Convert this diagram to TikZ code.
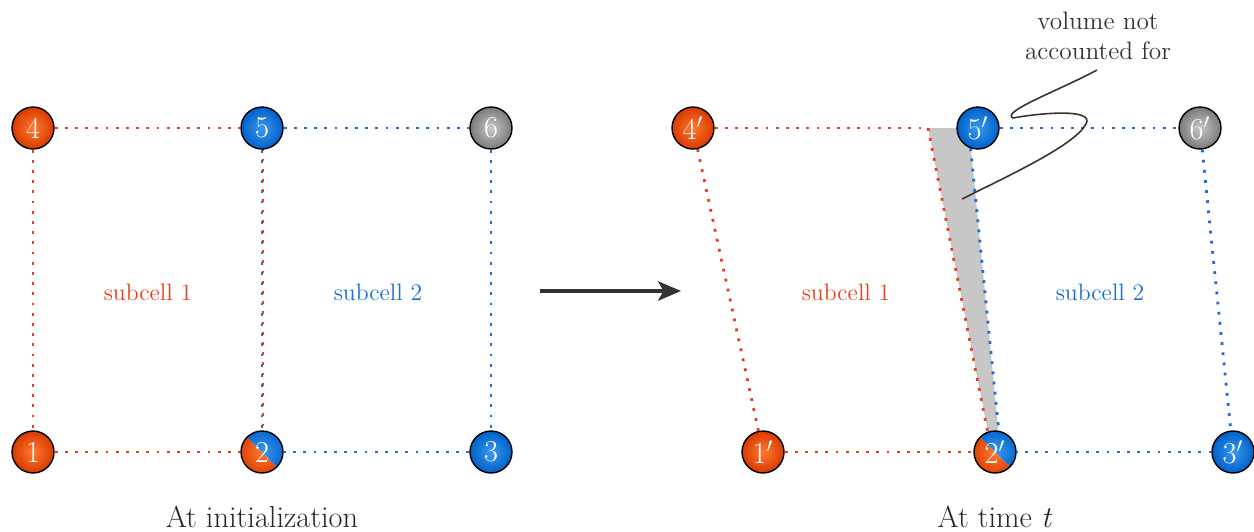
\documentclass[tikz,border=0pt]{standalone}
\usetikzlibrary{calc,arrows.meta}
\definecolor{cellred}{HTML}{E8401A}
\definecolor{cellblue}{HTML}{1A6FD0}
\definecolor{ballredin}{HTML}{FF7A30}
\definecolor{ballredout}{HTML}{D83A00}
\definecolor{ballbluein}{HTML}{3A9AF0}
\definecolor{ballblueout}{HTML}{0060C8}
\definecolor{ballgrayin}{HTML}{C8C8C8}
\definecolor{ballgrayout}{HTML}{7A7A7A}
\definecolor{inkgray}{HTML}{333333}
\pgfdeclarelayer{bg}
\pgfdeclarelayer{mid}
\pgfsetlayers{bg,mid,main}
\tikzset{
  vertex/.style={circle, draw=black, line width=0.8pt, minimum size=0.84cm,
    inner sep=0pt, text=white, font=\LARGE},
  redball/.style={vertex, shade, inner color=ballredin, outer color=ballredout},
  blueball/.style={vertex, shade, inner color=ballbluein, outer color=ballblueout},
  grayball/.style={vertex, shade, inner color=ballgrayin, outer color=ballgrayout},
  splitball/.style={vertex},
  redlink/.style={draw=cellred, line width=1.6pt, dash pattern=on 1.6pt off 4.2pt},
  bluelink/.style={draw=cellblue, line width=1.6pt, dash pattern=on 1.6pt off 4.2pt},
  celllabel/.style={font=\fontsize{13.5}{16}\selectfont},
  caption/.style={font=\LARGE, text=black!85},
}
\begin{document}
\begin{tikzpicture}[x=0.02cm, y=-0.02cm]
\useasboundingbox (0,0) rectangle (1254,531);

% ---- left configuration ----
\node[redball]  (n4) at (33,128) {4};
\node[blueball] (n5) at (262,128) {5};
\node[grayball] (n6) at (491,128) {6};
\node[redball]  (n1) at (33,452) {1};
\node[splitball](n2) at (262,452) {2};
\node[blueball] (n3) at (491,452) {3};

% ---- right configuration ----
\node[redball]  (m4) at (693,128) {4$'$};
\node[blueball] (m5) at (978,128) {5$'$};
\node[grayball] (m6) at (1200,128) {6$'$};
\node[redball]  (m1) at (763,452) {1$'$};
\node[splitball](m2) at (995,452) {2$'$};
\node[blueball] (m3) at (1233,452) {3$'$};
\coordinate (corner) at (928,128);

% two-coloured shared vertices: red lower-left half, blue upper-right half
\begin{pgfonlayer}{mid}
\foreach \v in {n2,m2}{
  \begin{scope}
    \clip (\v) circle[radius=0.42cm];
    \shade[inner color=ballredin, outer color=ballredout]
      ($(\v)+(-0.5cm,0.5cm)$) -- ($(\v)+(0.5cm,-0.5cm)$) -- ($(\v)+(-0.5cm,-0.5cm)$) -- cycle;
    \shade[inner color=ballbluein, outer color=ballblueout]
      ($(\v)+(-0.5cm,0.5cm)$) -- ($(\v)+(0.5cm,-0.5cm)$) -- ($(\v)+(0.5cm,0.5cm)$) -- cycle;
  \end{scope}
}
\end{pgfonlayer}

\begin{pgfonlayer}{bg}
  % uncovered volume between the two subcells
  \fill[black!22] (corner) -- (969,128) -- (999,437) -- (989,437) -- cycle;
  % left cells
  \draw[redlink] (n4) -- (n5);
  \draw[redlink] (n4) -- (n1);
  \draw[redlink] (n1) -- (n2);
  \draw[bluelink] (n5) -- (n6);
  \draw[bluelink] (n6) -- (n3);
  \draw[bluelink] (n3) -- (n2);
  \draw[bluelink] (n5) -- (n2);
  \draw[redlink] ($(n5)+(1,0)$) -- ($(n2)+(1,0)$);
  % right cells
  \draw[redlink] (m4) -- (corner);
  \draw[redlink] (corner) -- (m2.110);
  \draw[redlink] (m4) -- (m1);
  \draw[redlink] (m1) -- (m2);
  \draw[bluelink] (m5) -- (m6);
  \draw[bluelink] (m6) -- (m3);
  \draw[bluelink] (m3) -- (m2);
  \draw[bluelink] (m5.250) -- (m2.80);
\end{pgfonlayer}

% labels
\node[celllabel, text=cellred]  (s1) at (148,292) {subcell 1};
\node[celllabel, text=cellblue] (s2) at (378,292) {subcell 2};
\node[celllabel, text=cellred]  (t1) at (846,292) {subcell 1};
\node[celllabel, text=cellblue] (t2) at (1100,292) {subcell 2};
\node[caption] (capL) at (262,517) {At initialization};
\node[caption] (capR) at (995,517) {At time \textit{t}};
\node[font=\Large, text=inkgray, align=center, inner sep=0pt] (note) at (1098,36)
  {volume not\\[-1pt]accounted for};

% transition arrow
\coordinate (a0) at (540,291);
\coordinate (a1) at (681,291);
\draw[inkgray, line width=2pt, -{Stealth[length=13pt, width=11pt, inset=3pt]}] (a0) -- (a1);

% callout to the gap
\coordinate (p0) at (1097,70);
\coordinate (p1) at (962,199);
\draw[inkgray, line width=0.9pt] (p0) .. controls (1060,90) and (1000,112) .. (1013,118)
  .. controls (1040,113) and (1095,108) .. (1086,124)
  .. controls (1075,145) and (1010,175) .. (p1);
\end{tikzpicture}
\end{document}
